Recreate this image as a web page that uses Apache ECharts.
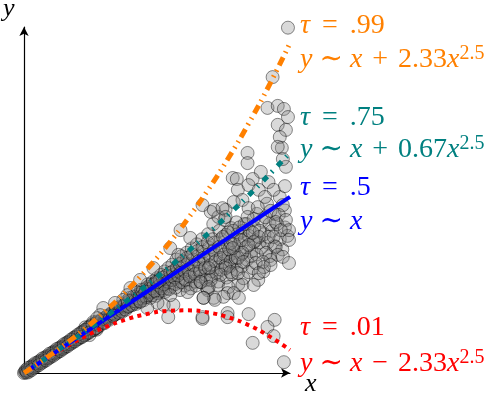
<!DOCTYPE html>
<html>
<head>
<meta charset="utf-8">
<script src="https://cdn.jsdelivr.net/npm/echarts@6/dist/echarts.min.js"></script>
<style>
  html, body { margin: 0; padding: 0; background: #fff; }
  #chart { width: 494px; height: 398px; }
</style>
</head>
<body>
<div id="chart"></div>
<script>
// sample points (x, y)
const pointsNearOrigin = [
  [0.000,0.000],[0.004,0.004],[0.007,0.007],[0.011,0.011],[0.014,0.014],[0.018,0.018],
  [0.021,0.021],[0.025,0.025],[0.028,0.028],[0.032,0.032],[0.035,0.035],[0.039,0.039],
  [0.042,0.042],[0.046,0.046],[0.049,0.049],[0.053,0.053],[0.056,0.056],[0.060,0.060],
  [0.063,0.064],[0.067,0.066],[0.070,0.071],[0.074,0.073],[0.077,0.078],[0.081,0.080],
  [0.084,0.086],[0.088,0.087],[0.091,0.093],[0.095,0.094],[0.098,0.101],[0.102,0.100],
  [0.105,0.108],[0.109,0.106],[0.112,0.116],[0.116,0.112],[0.119,0.124],[0.123,0.118],
  [0.126,0.131],[0.130,0.125],[0.133,0.139],[0.137,0.130],[0.140,0.146],[0.144,0.136],
  [0.120,0.135],[0.128,0.112],[0.135,0.150],[0.142,0.128],
  [0.002,0.002],[0.005,0.006],[0.009,0.009],[0.012,0.013],[0.016,0.016],[0.019,0.020],
  [0.023,0.023],[0.026,0.027],[0.030,0.030],[0.033,0.034],[0.037,0.037],[0.040,0.041],
  [0.044,0.044],[0.047,0.048],[0.051,0.051],[0.054,0.055],[0.058,0.058],[0.061,0.062],
  [0.065,0.064],[0.068,0.069],[0.072,0.071],[0.075,0.076],[0.079,0.078],[0.082,0.084],
  [0.086,0.085],[0.089,0.091],[0.093,0.092],[0.096,0.099],[0.100,0.098],[0.103,0.106],
  [0.107,0.105],[0.110,0.114],[0.114,0.110],[0.117,0.121],[0.121,0.118],[0.124,0.128],
  [0.128,0.122],[0.131,0.136],[0.135,0.128],[0.138,0.142],[0.142,0.134],[0.146,0.150],
  [0.003,0.008],[0.010,0.004],[0.017,0.023],[0.024,0.019],[0.031,0.036],[0.038,0.033],
  [0.045,0.050],[0.052,0.047],[0.059,0.064],[0.066,0.061],[0.073,0.078],[0.080,0.075],
  [0.087,0.093],[0.094,0.089],[0.101,0.108],[0.108,0.102],[0.115,0.123],[0.122,0.115],
  [0.129,0.138],[0.136,0.127],[0.143,0.152],[0.148,0.140],
  [0.006,0.001],[0.013,0.018],[0.020,0.015],[0.027,0.032],[0.034,0.029],[0.041,0.046],
  [0.048,0.043],[0.055,0.060],[0.062,0.057],[0.069,0.074],[0.076,0.071],[0.083,0.089],
  [0.090,0.085],[0.097,0.104],[0.104,0.099],[0.111,0.119],[0.118,0.111],[0.125,0.134],
  [0.008,0.015],[0.015,0.009],[0.022,0.029],[0.029,0.023],[0.036,0.043],[0.043,0.037],
  [0.050,0.057],[0.057,0.051],[0.064,0.071],[0.071,0.065],[0.078,0.085],[0.085,0.079],
  [0.092,0.099],[0.099,0.093],[0.106,0.114],[0.113,0.106],[0.120,0.128],[0.127,0.119],
  [0.134,0.144],[0.141,0.132]
]
const pointsMiddle = [
  [0.150,0.152],[0.155,0.150],[0.158,0.162],[0.160,0.158],[0.163,0.168],[0.165,0.160],
  [0.168,0.171],[0.170,0.164],[0.172,0.176],[0.175,0.170],[0.178,0.182],[0.180,0.175],
  [0.183,0.186],[0.185,0.180],[0.188,0.192],[0.190,0.184],[0.193,0.196],[0.195,0.188],
  [0.198,0.205],[0.200,0.193],[0.203,0.210],[0.205,0.197],[0.208,0.215],[0.210,0.203],
  [0.213,0.218],[0.215,0.206],[0.218,0.225],[0.220,0.210],[0.223,0.232],[0.225,0.214],
  [0.228,0.236],[0.230,0.220],[0.233,0.245],[0.235,0.222],[0.238,0.250],[0.240,0.228],
  [0.243,0.255],[0.245,0.232],[0.248,0.262],[0.250,0.238],
  [0.252,0.270],[0.255,0.245],[0.258,0.228],[0.260,0.280],[0.262,0.252],[0.265,0.240],
  [0.268,0.290],[0.270,0.262],[0.272,0.245],[0.275,0.300],[0.278,0.268],[0.280,0.250],
  [0.282,0.310],[0.285,0.282],[0.288,0.255],[0.290,0.320],[0.292,0.290],[0.295,0.262],
  [0.298,0.335],[0.300,0.300],[0.302,0.270],[0.305,0.245],[0.308,0.345],[0.310,0.312],
  [0.312,0.280],[0.315,0.258],[0.318,0.355],[0.320,0.322],[0.322,0.290],[0.325,0.262],
  [0.328,0.368],[0.330,0.335],[0.332,0.300],[0.335,0.270],[0.338,0.380],[0.340,0.345],
  [0.342,0.310],[0.345,0.285],[0.348,0.395],[0.350,0.358],[0.352,0.322],[0.355,0.290],
  [0.358,0.250],
  [0.360,0.410],[0.362,0.370],[0.365,0.335],[0.368,0.300],[0.370,0.440],[0.372,0.385],
  [0.375,0.348],[0.378,0.312],[0.380,0.270],[0.382,0.420],[0.385,0.395],[0.388,0.360],
  [0.390,0.330],[0.392,0.452],[0.395,0.408],[0.398,0.375],[0.400,0.345],[0.402,0.315],
  [0.405,0.428],[0.408,0.392],[0.410,0.355],[0.412,0.325],[0.415,0.445],[0.418,0.410],
  [0.420,0.380],[0.425,0.350],[0.428,0.420],[0.432,0.395],[0.435,0.440],[0.440,0.405],
  [0.445,0.360],[0.450,0.430],[0.455,0.470],[0.460,0.385],[0.465,0.450],[0.470,0.410],
  [0.475,0.500],[0.480,0.440],[0.490,0.470],[0.500,0.520],[0.510,0.480]
]
const pointsDense = [
  [0.152,0.158],[0.157,0.147],[0.161,0.166],[0.166,0.157],[0.170,0.176],[0.174,0.168],
  [0.177,0.172],[0.181,0.190],[0.186,0.177],[0.189,0.197],[0.192,0.181],[0.196,0.200],
  [0.199,0.187],[0.202,0.214],
  [0.204,0.196],[0.207,0.222],[0.211,0.200],[0.214,0.226],[0.216,0.212],[0.219,0.204],
  [0.222,0.238],[0.224,0.220],[0.227,0.212],[0.229,0.246],[0.232,0.228],[0.234,0.215],
  [0.237,0.240],[0.239,0.224],[0.242,0.262],[0.244,0.240],[0.247,0.222],[0.249,0.250],
  [0.251,0.230],[0.254,0.262],[0.256,0.242],[0.259,0.270],[0.261,0.236],[0.264,0.258],
  [0.266,0.275],[0.269,0.250],[0.271,0.282],[0.274,0.262],[0.276,0.240],[0.279,0.288],
  [0.281,0.270],[0.284,0.248],[0.286,0.296],[0.289,0.275],[0.291,0.300],[0.294,0.282],
  [0.296,0.252],[0.299,0.310],[0.301,0.288],
  [0.304,0.322],[0.306,0.296],[0.309,0.268],[0.311,0.330],[0.314,0.300],[0.316,0.275],
  [0.319,0.340],[0.321,0.305],[0.324,0.285],[0.326,0.250],[0.329,0.350],[0.331,0.318],
  [0.334,0.292],[0.336,0.258],[0.339,0.360],[0.341,0.330],[0.344,0.300],[0.346,0.268],
  [0.349,0.372],[0.351,0.340],[0.354,0.310],[0.356,0.275],[0.359,0.385],[0.361,0.350],
  [0.364,0.318],[0.366,0.285],[0.369,0.395],[0.371,0.362],[0.374,0.330],[0.376,0.295],
  [0.379,0.260],[0.381,0.372],[0.384,0.340],[0.386,0.305],[0.389,0.402],[0.391,0.350],
  [0.394,0.318],[0.396,0.282],[0.399,0.415],[0.401,0.365],[0.404,0.330],[0.406,0.292],
  [0.409,0.420],[0.411,0.380],[0.414,0.340],[0.416,0.305],[0.419,0.262],[0.421,0.430],
  [0.424,0.392],[0.426,0.315],[0.429,0.280],[0.431,0.440],[0.434,0.372],[0.436,0.335],
  [0.439,0.298],[0.441,0.420],[0.444,0.345],[0.447,0.310],[0.449,0.455],[0.452,0.390],
  [0.455,0.350],[0.458,0.275],[0.461,0.420],[0.464,0.370],[0.468,0.300],[0.472,0.460],
  [0.476,0.385],[0.480,0.345],[0.485,0.420],[0.490,0.375],[0.495,0.440],[0.500,0.395],
  [0.505,0.365],[0.510,0.430],[0.515,0.405]
]
const pointsOuter = [
  [0.516,1.020],[0.486,0.874],[0.476,0.783],[0.496,0.789],[0.508,0.780],[0.516,0.756],
  [0.496,0.733],[0.512,0.718],[0.500,0.697],[0.504,0.665],[0.496,0.668],[0.512,0.609],
  [0.506,0.632],[0.437,0.650],[0.437,0.620],[0.408,0.576],[0.416,0.573],[0.463,0.594],
  [0.478,0.564],[0.510,0.552],[0.447,0.573],[0.418,0.541],[0.439,0.555],[0.459,0.541],
  [0.488,0.541],[0.471,0.520],[0.427,0.511],[0.410,0.505],[0.394,0.482],[0.439,0.487],
  [0.457,0.490],[0.482,0.479],[0.506,0.496],[0.365,0.476],[0.380,0.461],[0.437,0.461],
  [0.498,0.467],[0.492,0.446],[0.512,0.452],[0.518,0.422],[0.502,0.422],[0.478,0.402],
  [0.488,0.402],[0.518,0.393],[0.459,0.402],[0.449,0.387],[0.439,0.378],[0.492,0.372],
  [0.473,0.355],[0.496,0.349],[0.506,0.343],[0.518,0.325],[0.482,0.334],[0.467,0.328],
  [0.453,0.325],[0.469,0.313],[0.459,0.295],[0.482,0.319],[0.427,0.355],[0.418,0.340],
  [0.429,0.328],[0.404,0.384],[0.408,0.369],[0.394,0.310],[0.384,0.290],[0.404,0.298],
  [0.418,0.295],[0.400,0.254],[0.427,0.260],[0.449,0.260],[0.398,0.236],[0.410,0.236],
  [0.420,0.222],[0.390,0.225],[0.371,0.222],[0.359,0.245],[0.365,0.275],[0.361,0.310],
  [0.447,0.414],[0.351,0.222],[0.373,0.216],[0.292,0.201],[0.282,0.165],[0.349,0.160],
  [0.398,0.177],[0.439,0.174],[0.490,0.157],[0.476,0.136],[0.488,0.109],[0.447,0.089],
  [0.508,0.032],
  [0.349,0.496],[0.371,0.482],[0.388,0.487],[0.394,0.461],[0.306,0.422],[0.325,0.399],
  [0.286,0.369],[0.302,0.349],[0.253,0.310],[0.261,0.269],[0.227,0.275],[0.208,0.251],
  [0.202,0.230],[0.194,0.216],[0.178,0.207],[0.155,0.192],[0.149,0.171],[0.143,0.162],
  [0.345,0.269],[0.361,0.254],[0.351,0.222],[0.398,0.165],[0.349,0.165],[0.320,0.239],
  [0.286,0.230],[0.273,0.201],[0.261,0.207],[0.241,0.192],[0.227,0.210]
]

// fitted quantile curves, sampled along x
const curveX = [0, 0.04, 0.08, 0.12, 0.16, 0.20, 0.24, 0.28, 0.32, 0.36, 0.40, 0.44, 0.48, 0.52]
const q99 = [0, 0.0407, 0.0842, 0.1316, 0.1839, 0.2417, 0.3058, 0.3767, 0.4550, 0.5412, 0.6358, 0.7392, 0.8519, 0.9744]
const q75 = [0, 0.0402, 0.0812, 0.1233, 0.1669, 0.2120, 0.2589, 0.3078, 0.3588, 0.4121, 0.4678, 0.5260, 0.5869, 0.6507]
const q50 = [0, 0.04, 0.08, 0.12, 0.16, 0.20, 0.24, 0.28, 0.32, 0.36, 0.40, 0.44, 0.48, 0.52]
const q01 = [0, 0.0393, 0.0758, 0.1084, 0.1361, 0.1583, 0.1742, 0.1833, 0.1850, 0.1788, 0.1642, 0.1408, 0.1081, 0.0680]

const serif = 'Liberation Serif'
const ORANGE = '#ff8000'
const TEAL = '#008080'
const BLUE = '#0000ff'
const RED = '#ff0000'

function pairs(ys) {
  return curveX.map((x, i) => [x, ys[i]])
}

// rich text styles for the math labels
// r = "=", t = tilde, b = +/-, s = superscript
function mathRich(color) {
  const base = { fontFamily: serif, fontSize: 28, fill: color, lineHeight: 32 }
  return {
    v: Object.assign({}, base, { fontStyle: 'italic' }),
    n: base,
    r: Object.assign({}, base, { padding: [0, 12, 0, 12] }),
    t: Object.assign({}, base, { fontFamily: 'DejaVu Serif', padding: [0, 7, 0, 7] }),
    b: Object.assign({}, base, { padding: [0, 10, 0, 10] }),
    s: { fontFamily: serif, fontSize: 20, fill: color, verticalAlign: 'top', lineHeight: 20 }
  }
}

function label(y, text, color) {
  return {
    type: 'text',
    x: 300,
    y: y,
    style: {
      text: text,
      rich: mathRich(color),
      fill: color,
      verticalAlign: 'middle'
    }
  }
}

const chart = echarts.init(document.getElementById('chart'))
chart.setOption({
  animation: false,
  grid: { left: 24, top: 27, width: 266, height: 346 },
  xAxis: {
    type: 'value',
    min: 0,
    max: 0.52,
    axisLine: {
      show: true,
      symbol: ['none', 'arrow'],
      symbolSize: [7, 9],
      lineStyle: { color: '#000', width: 1.2 }
    },
    axisTick: { show: false },
    axisLabel: { show: false },
    splitLine: { show: false }
  },
  yAxis: {
    type: 'value',
    min: 0,
    max: 1.022,
    axisLine: {
      show: true,
      symbol: ['none', 'arrow'],
      symbolSize: [7, 9],
      lineStyle: { color: '#000', width: 1.2 }
    },
    axisTick: { show: false },
    axisLabel: { show: false },
    splitLine: { show: false }
  },
  series: [
    {
      type: 'scatter',
      data: pointsNearOrigin.concat(pointsMiddle, pointsDense, pointsOuter),
      symbolSize: 13,
      clip: false,
      itemStyle: {
        color: 'rgba(128,128,128,0.3)',
        borderColor: 'rgba(0,0,0,0.45)',
        borderWidth: 1,
        opacity: 1
      }
    },
    {
      type: 'line',
      data: pairs(q01),
      smooth: true,
      showSymbol: false,
      lineStyle: { color: RED, width: 4, type: [4, 4.5], cap: 'butt' }
    },
    {
      type: 'line',
      data: pairs(q50),
      showSymbol: false,
      lineStyle: { color: BLUE, width: 4 }
    },
    {
      type: 'line',
      data: pairs(q75),
      smooth: true,
      showSymbol: false,
      lineStyle: { color: TEAL, width: 5, type: [6, 6, 1.5, 7], cap: 'butt' }
    },
    {
      type: 'line',
      data: pairs(q99),
      smooth: true,
      showSymbol: false,
      lineStyle: { color: ORANGE, width: 5, type: [9, 5, 1.5, 5, 1.5, 5], cap: 'butt' }
    }
  ],
  graphic: [
    label(26, '{v|τ}{r|=}{n|.99}', ORANGE),
    label(60, '{v|y}{t|∼}{v|x}{b|+}{n|2.33}{v|x}{s|2.5}', ORANGE),
    label(118, '{v|τ}{r|=}{n|.75}', TEAL),
    label(150, '{v|y}{t|∼}{v|x}{b|+}{n|0.67}{v|x}{s|2.5}', TEAL),
    label(188, '{v|τ}{r|=}{n|.5}', BLUE),
    label(222, '{v|y}{t|∼}{v|x}', BLUE),
    label(328, '{v|τ}{r|=}{n|.01}', RED),
    label(364, '{v|y}{t|∼}{v|x}{b|−}{n|2.33}{v|x}{s|2.5}', RED),
    {
      type: 'text', x: 305, y: 384,
      style: { text: 'x', font: 'italic 26px "Liberation Serif"', fill: '#000', verticalAlign: 'middle' }
    },
    {
      type: 'text', x: 3, y: 9,
      style: { text: 'y', font: 'italic 26px "Liberation Serif"', fill: '#000', verticalAlign: 'middle' }
    }
  ]
})
</script>
</body>
</html>
